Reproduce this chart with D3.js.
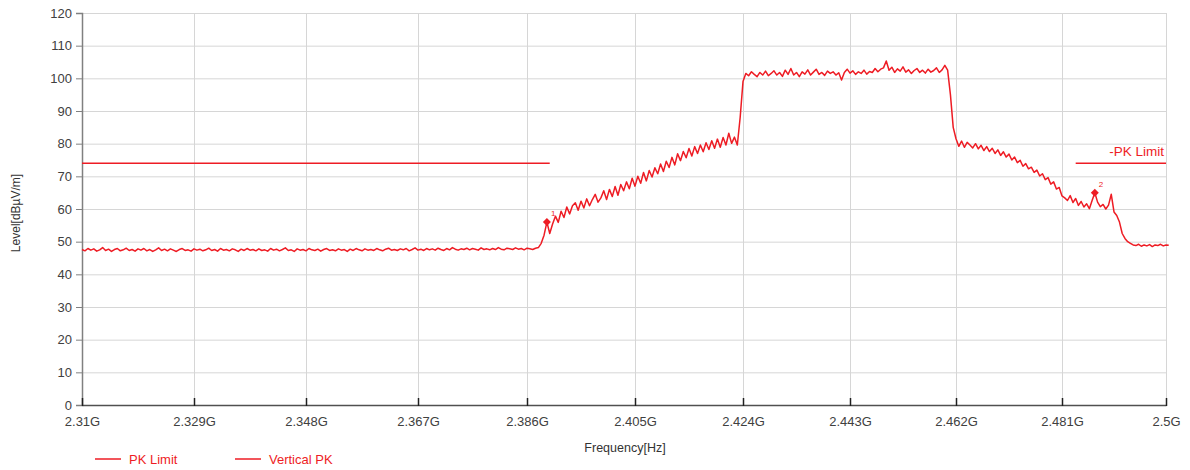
<!DOCTYPE html>
<html><head><meta charset="utf-8">
<script src="https://cdn.jsdelivr.net/npm/d3@7"></script>
<style>
body{margin:0;background:#fff;}
svg{display:block;font-family:"Liberation Sans",Arial,sans-serif;}
</style>
</head><body>
<svg id="chart" width="1190" height="470"></svg>
<script>
// ---------------- data ----------------
const sweepStartGHz = 2.31;
const sweepStepGHz = 0.0005;
const verticalPK = [
47.6,47.2,47.9,47.4,47.8,47.1,47.5,48.2,47.3,47.7,47.0,47.6,47.9,47.2,47.5,48.0,47.3,47.6,47.1,47.8,
47.4,47.9,47.2,47.6,47.0,47.5,48.1,47.3,47.7,47.2,47.8,47.4,47.0,47.6,47.9,47.3,47.5,47.1,47.8,47.4,
47.7,47.2,47.5,48.0,47.3,47.6,47.1,47.9,47.4,47.6,47.2,47.8,47.5,47.0,47.7,47.3,47.9,47.4,47.6,47.2,
47.8,47.3,47.5,47.1,47.9,47.4,47.7,47.2,47.6,48.1,47.3,47.5,47.0,47.8,47.4,47.6,47.2,47.9,47.5,47.3,
47.7,47.1,47.6,47.9,47.3,47.5,47.2,47.8,47.4,47.6,47.0,47.7,47.3,47.9,47.5,47.2,47.8,47.4,47.6,47.3,
47.9,47.5,47.2,47.7,48.0,47.4,47.6,47.3,47.8,47.5,47.9,47.2,47.6,48.1,47.4,47.7,47.3,47.9,47.5,47.8,
47.4,48.0,47.6,47.3,47.9,47.5,48.2,47.7,47.4,47.8,47.6,48.0,47.5,47.9,47.7,47.4,48.1,47.6,47.8,47.5,
47.9,47.6,48.2,47.7,47.5,48.0,47.8,47.6,48.1,47.7,47.9,47.5,48.0,47.8,47.6,48.0,
48.2,49.5,52.0,56.0,52.5,55.4,57.8,55.9,59.3,57.4,
60.6,58.5,61.0,61.9,59.6,62.4,60.3,63.1,61.0,62.9,
64.5,62.1,63.4,65.6,62.9,66.0,63.8,66.9,64.2,67.5,
65.6,68.3,66.2,69.4,67.0,70.0,67.9,71.2,68.6,71.8,
69.8,72.6,70.8,73.8,71.5,74.6,72.7,75.8,73.5,76.9,
74.8,77.6,75.7,78.5,76.2,79.1,77.0,79.6,77.5,80.3,
78.2,80.9,78.6,81.4,78.9,81.9,79.6,83.2,80.1,82.0,
79.6,88.0,
99.0,101.5,100.8,102.0,101.2,100.5,101.8,101.0,102.2,100.8,
101.5,102.3,101.0,101.8,100.6,102.5,101.2,103.0,101.0,101.8,
100.5,102.0,101.3,102.6,101.0,101.9,102.8,101.2,101.8,100.9,
102.2,101.5,102.0,101.0,101.7,99.5,101.8,102.8,101.6,102.3,
101.2,102.0,101.5,102.5,101.3,102.1,101.8,103.0,102.0,102.8,
103.2,105.3,102.5,103.4,101.8,102.9,102.2,103.5,101.9,102.6,
101.5,102.4,103.0,101.8,102.5,101.6,102.8,101.9,102.4,103.2,
101.8,102.6,104.0,102.5,
95.0,85.0,81.5,79.2,80.8,78.9,80.4,79.6,78.7,80.0,
78.4,79.5,77.9,79.1,77.6,78.6,77.0,78.1,76.4,77.5,
75.9,76.8,75.0,75.9,74.2,74.9,73.1,73.9,72.3,72.8,
71.2,71.9,70.1,70.8,69.0,69.6,67.6,68.3,66.1,66.6,
64.0,63.4,62.6,64.1,62.0,63.2,61.1,62.3,60.6,61.6,
60.1,62.6,65.0,62.1,60.7,61.4,60.0,61.2,64.5,59.1,
58.0,56.0,52.5,51.0,50.0,49.5,49.0,48.8,49.2,48.6,
49.0,48.7,49.1,48.5,49.0,48.8,49.2,48.7,49.0,48.9
];
const xTickValues = [2.31,2.329,2.348,2.367,2.386,2.405,2.424,2.443,2.462,2.481,2.5];
const xTickLabels = ["2.31G","2.329G","2.348G","2.367G","2.386G","2.405G","2.424G","2.443G","2.462G","2.481G","2.5G"];
const yTickValues = [0,10,20,30,40,50,60,70,80,90,100,110,120];
const limitStartGHz = [2.31, 2.4835];
const limitEndGHz = [2.39, 2.5];
const limitLevel = [74, 74];
const markerGHz = [2.3895, 2.487];
const markerLevel = [56.0, 65.0];
const markerLabels = ["1","2"];
const seriesNames = ["PK Limit","Vertical PK"];

// ---------------- layout ----------------
const plotLeft = 82, plotRight = 1166, plotTop = 13, plotBottom = 405;
// pixel stops of the (slightly non-uniform) frequency axis in the reference
const xPixelStops = [82,194,306,418,527,635,743,850,956,1062,1166];
const red = "#ee1c24";

const svg = d3.select("#chart");
const x = d3.scaleLinear().domain(xTickValues).range(xPixelStops);
const y = d3.scaleLinear().domain([0,120]).range([plotBottom, plotTop]);

// gridlines
svg.append("g").attr("transform",`translate(${plotLeft},0)`)
  .call(d3.axisLeft(y).tickValues(yTickValues).tickSize(-(plotRight-plotLeft)).tickFormat(""))
  .call(g=>g.select(".domain").remove())
  .call(g=>g.selectAll("line").attr("stroke","#d6d6d6").attr("stroke-width",1));
svg.append("g").attr("transform",`translate(0,${plotBottom})`)
  .call(d3.axisBottom(x).tickValues(xTickValues).tickSize(-(plotBottom-plotTop)).tickFormat(""))
  .call(g=>g.select(".domain").remove())
  .call(g=>g.selectAll("line").attr("stroke","#d6d6d6").attr("stroke-width",1));

// y axis
const yAxis = svg.append("g").attr("transform",`translate(${plotLeft},0)`)
  .call(d3.axisLeft(y).tickValues(yTickValues).tickSize(6).tickPadding(4));
yAxis.select(".domain").attr("stroke","#808080").attr("stroke-width",1.5);
yAxis.selectAll(".tick line").attr("stroke","#808080");
yAxis.selectAll(".tick text").attr("font-size",13).attr("fill","#404040")
  .attr("font-family","'Liberation Sans',Arial,sans-serif");

// x axis
const xAxis = svg.append("g").attr("transform",`translate(0,${plotBottom})`)
  .call(d3.axisBottom(x).tickValues(xTickValues).tickSizeInner(-6).tickSizeOuter(0).tickPadding(12)
    .tickFormat((d,i)=>xTickLabels[i]));
xAxis.select(".domain").attr("stroke","#505050").attr("stroke-width",1.5);
xAxis.selectAll(".tick line").attr("stroke","#202020").attr("stroke-width",1.5).attr("y2",-7).attr("y1",1);
xAxis.selectAll(".tick text").attr("font-size",13).attr("fill","#404040")
  .attr("font-family","'Liberation Sans',Arial,sans-serif");

// axis titles
svg.append("text").attr("x",625).attr("y",452).attr("text-anchor","middle")
  .attr("font-size",12.5).attr("fill","#333").text("Frequency[Hz]");
svg.append("text").attr("transform","translate(20,213) rotate(-90)").attr("text-anchor","middle")
  .attr("font-size",12).attr("fill","#333").text("Level[dBµV/m]");

// limit line
const limits = limitStartGHz.map((s,i)=>({s, e:limitEndGHz[i], v:limitLevel[i]}));
svg.append("g").selectAll("line").data(limits).join("line")
  .attr("x1",d=>x(d.s)).attr("x2",d=>x(d.e))
  .attr("y1",d=>y(d.v)).attr("y2",d=>y(d.v))
  .attr("stroke",red).attr("stroke-width",1.5);
svg.append("text").attr("x",plotRight-2).attr("y",y(limitLevel[1])-7).attr("text-anchor","end")
  .attr("font-size",13.5).attr("fill",red).text("-PK Limit");

// trace
const line = d3.line()
  .x((d,i)=>x(sweepStartGHz + i*sweepStepGHz))
  .y(d=>y(d));
svg.append("path").datum(verticalPK).attr("d",line)
  .attr("fill","none").attr("stroke",red).attr("stroke-width",1.5).attr("stroke-linejoin","round");

// markers
const markers = markerGHz.map((f,i)=>({f, v:markerLevel[i], t:markerLabels[i]}));
svg.append("g").selectAll("path").data(markers).join("path")
  .attr("d", d3.symbol().type(d3.symbolSquare).size(32))
  .attr("transform",d=>`translate(${x(d.f)},${y(d.v)}) rotate(45)`)
  .attr("fill",red);
svg.append("g").selectAll("text").data(markers).join("text")
  .attr("x",d=>x(d.f)+4).attr("y",d=>y(d.v)-6)
  .attr("font-size",8).attr("fill",red).text(d=>d.t);

// legend
const legendX = [95, 235];
const lg = svg.append("g").selectAll("g").data(seriesNames).join("g")
  .attr("transform",(d,i)=>`translate(${legendX[i]},459)`);
lg.append("line").attr("x1",0).attr("x2",26).attr("stroke",red).attr("stroke-width",1.5);
lg.append("text").attr("x",34).attr("y",5).attr("font-size",13).attr("fill",red).text(d=>d);
</script>
</body></html>
